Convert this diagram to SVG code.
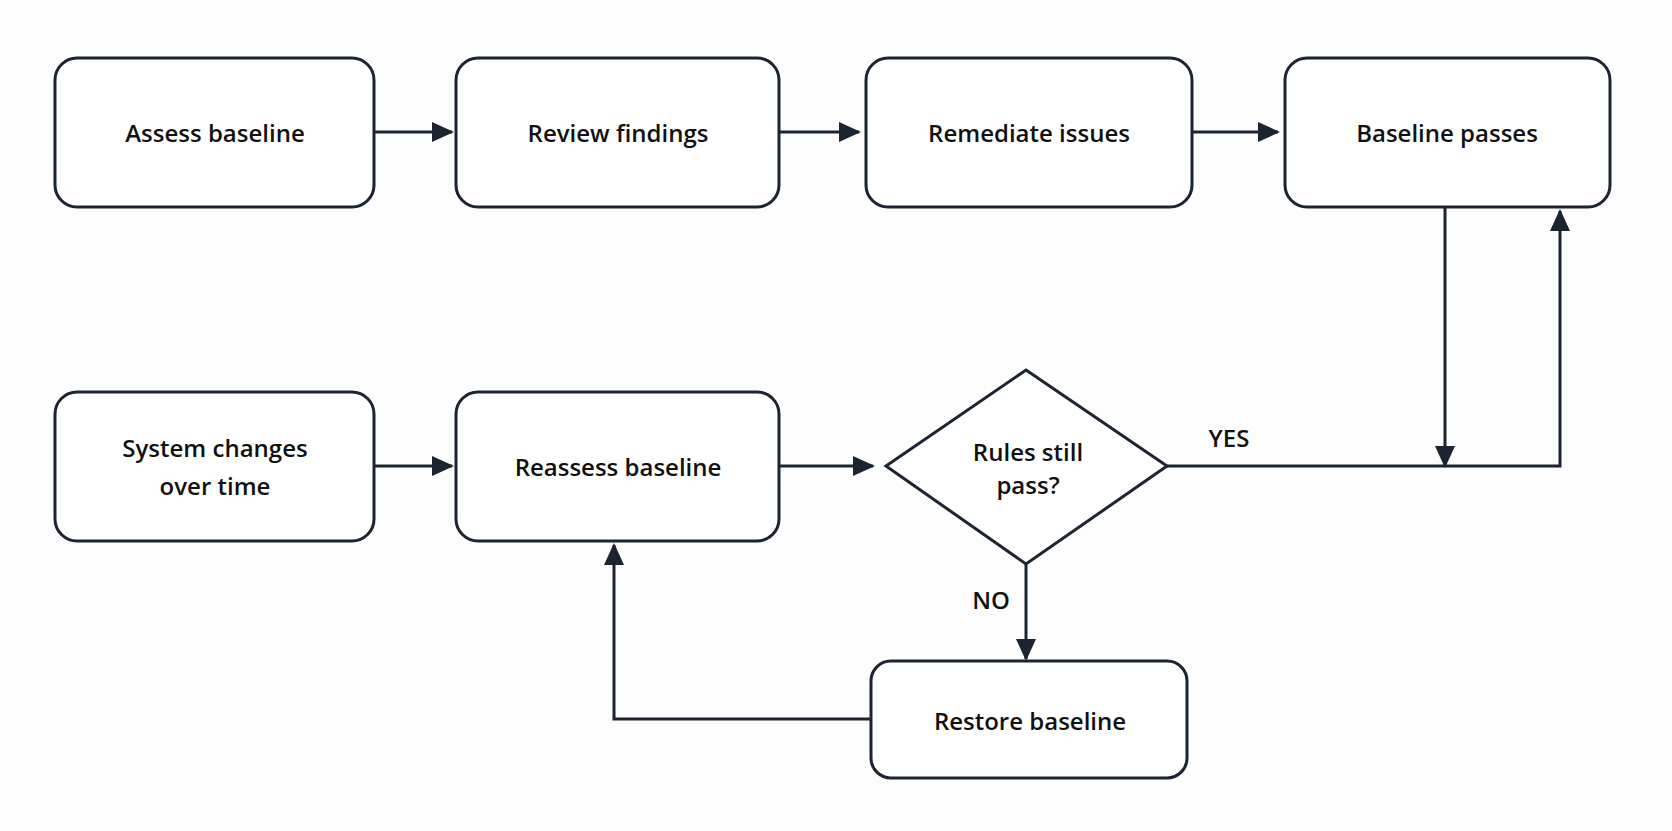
<svg xmlns="http://www.w3.org/2000/svg" width="1672" height="831" viewBox="0 0 1672 831">
<style>
.n{fill:#fff;stroke:#1b2430;stroke-width:3}
.t{font-family:"Open Sans","Liberation Sans",sans-serif;font-size:24px;font-weight:600;fill:#111;text-anchor:middle;dominant-baseline:central}
.c{fill:none;stroke:#1b2430;stroke-width:3}
</style>
<defs><marker id="b" markerWidth="22" markerHeight="20" refX="20" refY="10" orient="auto" markerUnits="userSpaceOnUse" viewBox="0 0 22 20"><path d="M0,0L22,10L0,20z" fill="#1b2430"/></marker></defs>
<rect width="1672" height="831" fill="#fdfdfd"/>
<g id="connectors">
<path class="c" d="M374,132H452" marker-end="url(#b)"/>
<path class="c" d="M779,132H859" marker-end="url(#b)"/>
<path class="c" d="M1192,132H1278" marker-end="url(#b)"/>
<path class="c" d="M1445,207V466" marker-end="url(#b)"/>
<path class="c" d="M1167,466H1560V211" marker-end="url(#b)"/>
<path class="c" d="M374,466H452" marker-end="url(#b)"/>
<path class="c" d="M779,466H873" marker-end="url(#b)"/>
<path class="c" d="M1026,564V659" marker-end="url(#b)"/>
<path class="c" d="M871,719H614V545" marker-end="url(#b)"/>
<text class="t" x="1229" y="437">YES</text>
<text class="t" x="991" y="599">NO</text>
</g>
<g id="n1"><rect class="n" x="55" y="58" width="319" height="149" rx="22"/><text class="t" x="215" y="132">Assess baseline</text></g>
<g id="n2"><rect class="n" x="456" y="58" width="323" height="149" rx="22"/><text class="t" x="618" y="132">Review findings</text></g>
<g id="n3"><rect class="n" x="866" y="58" width="326" height="149" rx="22"/><text class="t" x="1029" y="132">Remediate issues</text></g>
<g id="n4"><rect class="n" x="1285" y="58" width="325" height="149" rx="22"/><text class="t" x="1447" y="132">Baseline passes</text></g>
<g id="n5"><rect class="n" x="55" y="392" width="319" height="149" rx="22"/><text class="t" x="215" y="447">System changes</text><text class="t" x="215" y="485">over time</text></g>
<g id="n6"><rect class="n" x="456" y="392" width="323" height="149" rx="22"/><text class="t" x="618" y="466">Reassess baseline</text></g>
<g id="n7"><path class="n" d="M1026,370L1167,466L1026,564L886,466Z"/><text class="t" x="1028" y="451">Rules still</text><text class="t" x="1028" y="484">pass?</text></g>
<g id="n8"><rect class="n" x="871" y="661" width="316" height="117" rx="20"/><text class="t" x="1030" y="720">Restore baseline</text></g>
</svg>
